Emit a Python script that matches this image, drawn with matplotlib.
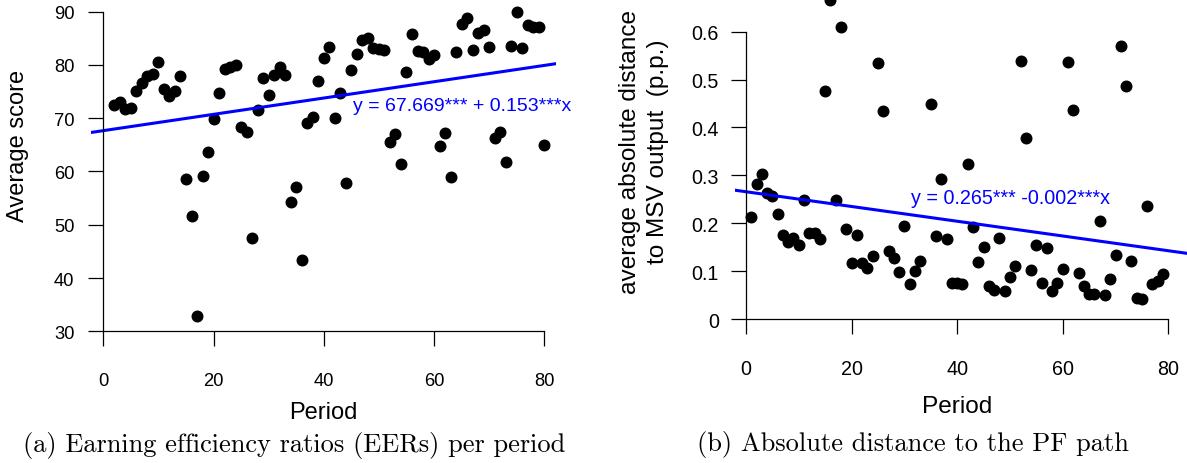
import numpy as np
import matplotlib
matplotlib.use("Agg")
import matplotlib.pyplot as plt

plt.rcParams['font.family'] = ['Liberation Sans', 'DejaVu Sans']

# Panel (a): average score per period
periods_a = list(range(2, 81))
score = [72.5, 73.1, 71.7, 71.9, 75.2, 76.6, 77.9, 78.3, 80.6, 75.4,
         74.2, 75.1, 78.0, 58.5, 51.6, 32.8, 59.2, 63.7, 69.9, 74.7,
         79.2, 79.7, 80.0, 68.3, 67.5, 47.5, 71.6, 77.5, 74.4, 78.2,
         79.7, 78.1, 54.3, 57.0, 43.4, 69.1, 70.2, 76.9, 81.3, 83.4,
         70.0, 74.7, 57.8, 79.1, 82.1, 84.7, 85.1, 83.2, 83.0, 82.8,
         65.5, 67.0, 61.5, 78.7, 85.8, 82.6, 82.4, 81.2, 81.9, 64.8,
         67.2, 59.0, 82.4, 87.6, 88.9, 82.8, 86.0, 86.6, 83.3, 66.3,
         67.5, 61.7, 83.6, 89.9, 83.1, 87.5, 87.1, 87.1, 65.0]
fit_a = (67.669, 0.153)
label_a = "y = 67.669*** + 0.153***x"

# Panel (b): absolute distance to MSV output
periods_b = list(range(1, 34)) + list(range(35, 80))
dist = [0.214, 0.282, 0.303, 0.264, 0.256, 0.219, 0.175, 0.160, 0.169, 0.155,
        0.248, 0.179, 0.179, 0.167, 0.477, 0.666, 0.248, 0.610, 0.189, 0.118,
        0.176, 0.117, 0.106, 0.132, 0.535, 0.435, 0.143, 0.127, 0.098, 0.195,
        0.074, 0.101, 0.122,
        0.449, 0.173, 0.292, 0.168, 0.075, 0.075, 0.073, 0.324, 0.193, 0.120,
        0.150, 0.068, 0.061, 0.169, 0.059, 0.088, 0.111, 0.539, 0.379, 0.102,
        0.155, 0.075, 0.148, 0.059, 0.075, 0.104, 0.536, 0.437, 0.097, 0.068,
        0.052, 0.052, 0.205, 0.051, 0.084, 0.134, 0.571, 0.486, 0.122, 0.043,
        0.041, 0.237, 0.073, 0.080, 0.095]
fit_b = (0.2658, -0.00154)
label_b = "y = 0.265*** -0.002***x"

W, H = 1187, 464
fig = plt.figure(figsize=(W / 100, H / 100), dpi=100)


def rect(x0, x1, y0, y1):
    # pixel box -> figure fraction (y0 top, y1 bottom)
    return [x0 / W, 1 - y1 / H, (x1 - x0) / W, (y1 - y0) / H]


def style(ax, ybounds, ybase, tsize, xpad, ypad):
    for s in ['top', 'right']:
        ax.spines[s].set_visible(False)
    ax.spines['left'].set_position(('data', 0))
    ax.spines['left'].set_bounds(*ybounds)
    ax.spines['bottom'].set_position(('data', ybase))
    ax.spines['bottom'].set_bounds(0, 80)
    for s in ['left', 'bottom']:
        ax.spines[s].set_linewidth(0.9)
    ax.tick_params(direction='out', length=10.8, width=0.9, labelsize=tsize)
    ax.tick_params(axis='x', pad=xpad)
    ax.tick_params(axis='y', pad=ypad)
    ax.set_xticks([0, 20, 40, 60, 80])


# (a)
ax1 = fig.add_axes(rect(91.2, 556.4, 0.4, 343.0))
ax1.plot(periods_a, score, 'o', color='black', markersize=7.6)
xs = np.array([-2.2, 82.2])
ax1.plot(xs, fit_a[0] + fit_a[1] * xs, color='blue', linewidth=2.2)
ax1.set_xlim(-2.2, 82.2)
ax1.set_ylim(28, 92.3)
ax1.set_yticks([30, 40, 50, 60, 70, 80, 90])
style(ax1, (30, 90), 30, 13.2, 18.5, 10)
ax1.text(45.35, 72.3, label_a, color='blue', fontsize=14, ha='left', va='center')

# (b)
ax2 = fig.add_axes(rect(734.9, 1186.8, 0.1, 339.2))
ax2.plot(periods_b, dist, 'o', color='black', markersize=7.6)
xs = np.array([-2.1, 83.5])
ax2.plot(xs, fit_b[0] + fit_b[1] * xs, color='blue', linewidth=2.2)
ax2.set_xlim(-2.1, 83.5)
ax2.set_ylim(-0.04, 0.668)
ax2.set_yticks([0, 0.1, 0.2, 0.3, 0.4, 0.5, 0.6])
ax2.set_yticklabels(['0', '0.1', '0.2', '0.3', '0.4', '0.5', '0.6'])
style(ax2, (0, 0.6), 0, 14.2, 17.8, 8.6)
ax2.text(31.2, 0.253, label_b, color='blue', fontsize=14.2, ha='left', va='center')

# axis titles
fig.text(18 / W, 1 - 145.6 / H, "Average score", rotation=90, fontsize=17,
         ha='center', va='center')
fig.text(644 / W, 1 - 152 / H, "average absolute distance\nto MSV output  (p.p.)",
         rotation=90, fontsize=17.6, ha='center', va='center', linespacing=1.3)
fig.text(323.8 / W, 1 - 413 / H, "Period", fontsize=17, ha='center', va='center')
fig.text(957.2 / W, 1 - 406.7 / H, "Period", fontsize=17.6, ha='center', va='center')

# captions
fig.text(294 / W, 1 - 446 / H, "(a) Earning efficiency ratios (EERs) per period",
         family='cmr10', fontsize=19, ha='center', va='center')
fig.text(912.7 / W, 1 - 445 / H, "(b) Absolute distance to the PF path",
         family='cmr10', fontsize=19, ha='center', va='center')

fig.savefig("out.png", dpi=100)
